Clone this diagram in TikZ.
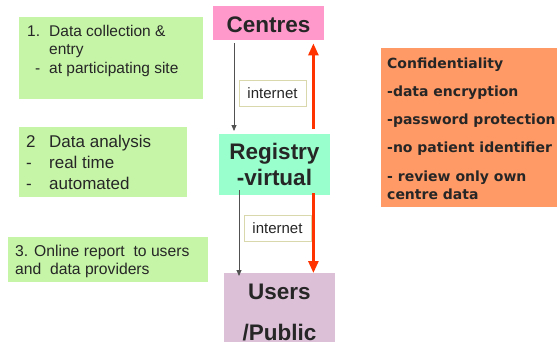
\documentclass[tikz,border=0pt]{standalone}
\usepackage{fontspec}
\setmainfont{Liberation Sans}
\newfontfamily\verdfont{DejaVu Sans}
\usetikzlibrary{arrows.meta,calc}
\definecolor{notegreen}{HTML}{C6F5A8}
\definecolor{centrepink}{HTML}{FF99CC}
\definecolor{regaqua}{HTML}{99FFCC}
\definecolor{userlilac}{HTML}{DCC0D8}
\definecolor{confor}{HTML}{FF9966}
\definecolor{flowred}{HTML}{FF3300}
\definecolor{labelrim}{HTML}{D8D8AC}
\definecolor{ink}{HTML}{262626}
\tikzset{
  panel/.style={rectangle, inner sep=0pt, draw=none, anchor=north west},
  note/.style={panel, fill=notegreen},
  txt/.style={inner sep=0pt, anchor=base west, text=ink},
  ttl/.style={inner sep=0pt, anchor=base, text=ink, font=\bfseries\fontsize{22.5pt}{26pt}\selectfont},
  netlabel/.style={rectangle, draw=labelrim, line width=1pt, fill=white, inner sep=0pt,
    minimum width=67pt, minimum height=26pt, text=ink, font=\fontsize{15pt}{18pt}\selectfont},
  dataflow/.style={draw=ink!80, line width=0.8pt, -{Triangle[width=5pt,length=6pt]}},
  accessflow/.style={draw=flowred, line width=2.6pt, -{Triangle[width=10pt,length=12pt]}},
}
\begin{document}
\begin{tikzpicture}[x=1pt,y=-1pt]
\useasboundingbox (0,0) rectangle (558,341);
\clip (0,0) rectangle (558,341);

% process notes on the left
\node[note, minimum width=184pt, minimum height=82pt] (n1) at (19,17) {};
\node[txt, font=\fontsize{15.5pt}{18.5pt}\selectfont] (n1t) at (27,36)
  {\begin{tabular}[t]{@{}l@{}}
   \makebox[22pt][l]{1.}Data collection \&\\
   \hspace*{22pt}entry\\
   \hspace*{8pt}\makebox[14pt][l]{-}at participating site
   \end{tabular}};

\node[note, minimum width=168pt, minimum height=70pt] (n2) at (19,127) {};
\node[txt, font=\fontsize{17pt}{21pt}\selectfont] (n2t) at (26,147)
  {\begin{tabular}[t]{@{}l@{}}
   \makebox[23pt][l]{2}Data analysis\\
   \makebox[23pt][l]{-}real time\\
   \makebox[23pt][l]{-}automated
   \end{tabular}};

\node[note, minimum width=200pt, minimum height=45pt] (n3) at (8,237) {};
\node[txt, font=\fontsize{15.7pt}{18pt}\selectfont] (n3t) at (15,256)
  {\begin{tabular}[t]{@{}l@{}}
   3. Online report\ \ to users\\
   and\ \ data providers
   \end{tabular}};

% central flow
\node[panel, fill=centrepink, minimum width=111pt, minimum height=34pt] (centres) at (213,6) {};
\node[ttl] (centrest) at (268.5,32) {Centres};

\node[panel, fill=regaqua, minimum width=111pt, minimum height=61pt] (registry) at (219,134) {};
\node[ttl] (registryt) at (274.5,159)
  {\begin{tabular}[t]{@{}c@{}}Registry\\-virtual\end{tabular}};

\node[panel, fill=userlilac, minimum width=111pt, minimum height=80pt] (users) at (224,273) {};
\node[ttl] (userst) at (279.5,299)
  {\begin{tabular}[t]{@{}c@{}}Users\\[15pt]/Public\end{tabular}};

\node[netlabel] (net1) at (272.5,93) {internet};
\node[netlabel] (net2) at (277.5,228.5) {internet};

% connectors
\draw[dataflow] ($(centres.south west)+(21,3)$) -- ($(registry.north west)+(15,-3)$);
\draw[accessflow] ($(registry.north east)+(-17,-5)$) -- ($(centres.south east)+(-11,3)$);
\draw[dataflow] ($(registry.south west)+(20,-5)$) -- ($(users.north west)+(15,3)$);
\draw[accessflow] ($(registry.south east)+(-17,-2)$) -- ($(users.north east)+(-22,0)$);

% confidentiality panel
\node[panel, fill=confor, minimum width=176pt, minimum height=159pt] (conf) at (381,48) {};
\node[txt, font=\verdfont\bfseries\fontsize{14pt}{18.7pt}\selectfont] (conft) at (387,68)
  {\begin{tabular}[t]{@{}l@{}}
   Confidentiality\\[9.6pt]
   -data encryption\\[9.6pt]
   -password protection\\[9.6pt]
   -no patient identifier\\[9.6pt]
   - review only own\\
   centre data
   \end{tabular}};
\end{tikzpicture}
\end{document}
